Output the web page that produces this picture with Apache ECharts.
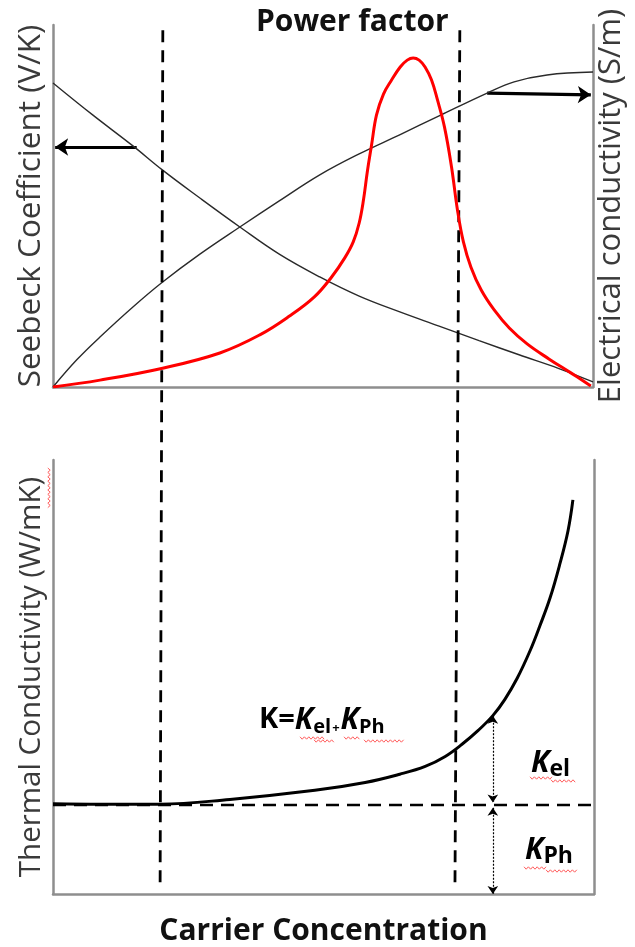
<!DOCTYPE html>
<html>
<head>
<meta charset="utf-8">
<title>Power factor and thermal conductivity vs carrier concentration</title>
<script src="https://cdn.jsdelivr.net/npm/echarts@6/dist/echarts.min.js"></script>
<style>
  html, body { margin: 0; padding: 0; background: #fff; }
  #chart { width: 635px; height: 947px; }
</style>
</head>
<body>
<div id="chart"></div>
<script>
// Carrier concentration runs 0..100 (arbitrary units) on every panel;
// all property values are normalised to 0..100 of their own axis.

// Seebeck coefficient (left axis, upper panel)
const seebeckX = [0, 7.4, 14.8, 20.3, 27.2, 34.6, 41.9, 49.4, 56.7, 64.1, 71.5, 78.9, 86.3, 93.7, 100];
const seebeckY = [84.0, 75.1, 66.6, 59.9, 52.2, 44.2, 36.7, 30.4, 25.1, 20.8, 16.8, 12.8, 8.9, 5.1, 1.4];

// Electrical conductivity (right axis, upper panel)
const sigmaX = [0, 4.4, 8.7, 14.8, 20.3, 27.2, 34.6, 41.9, 49.4, 56.7, 64.1, 71.5, 80.4, 85.4, 91.5, 100];
const sigmaY = [0, 7.5, 13.8, 22.1, 29.0, 36.7, 44.2, 51.4, 58.6, 64.4, 69.6, 74.9, 81.2, 84.3, 86.2, 87.0];

// Power factor (upper panel)
const pfX = [0, 8.7, 20.3, 30.9, 38.3, 43.8, 48.4, 51.6, 54.0, 55.6, 56.7, 57.5, 58.2, 59.0, 59.9, 61.2,
  62.7, 64.3, 65.6, 66.7, 67.8, 68.9, 70.1, 71.2, 72.5, 73.8, 74.9, 76.0, 77.4, 79.3, 81.7, 84.5, 87.8,
  91.9, 95.9, 99.6];
const pfY = [0, 1.9, 5.2, 9.4, 14.4, 19.6, 24.9, 30.4, 35.6, 40.1, 45.3, 51.7, 59.4, 66.9, 75.1, 80.9,
  84.8, 88.4, 90.3, 90.9, 90.3, 88.4, 84.8, 79.3, 71.8, 60.8, 48.9, 40.1, 33.1, 26.8, 21.3, 16.3, 11.9,
  7.7, 3.9, 0.3];

// Total thermal conductivity K = K_el + K_ph (lower panel)
const kappaX = [0, 8.7, 19.8, 32.7, 48.4, 57.7, 64.1, 68.8, 72.5, 75.6, 78.6, 81.3, 83.5, 85.8, 88.2, 90.0, 91.9, 93.7, 95.2, 96.1];
const kappaY = [20.8, 20.7, 20.7, 21.8, 23.9, 25.7, 27.6, 29.4, 31.7, 34.5, 37.7, 41.1, 44.8, 49.7, 56.1, 61.8, 68.3, 76.1, 83.7, 90.8];

// Lattice (phonon) contribution, constant
const kappaPh = 20.5;

// Optimal-concentration window (vertical guides), [top x, bottom x]
const windowLeft = [20.3, 19.8];
const windowRight = [75.2, 74.3];

// Axis-pointing arrows in the upper panel: [[x0, y0], [x1, y1]]
const arrowSeebeck = [[15.5, 66.3], [0.4, 66.3]];
const arrowSigma = [[80.4, 81.2], [99.6, 80.7]];

// Split of K at one concentration: K_el above K_ph
const splitX = 81.3;
const splitTop = 41.1;

const zip = (xs, ys) => xs.map((x, i) => [x, ys[i]]);

const FONT = '"Open Sans", "Noto Sans", sans-serif';
const AXIS_GRAY = '#8e8e8e';

const axisBase = {
  type: 'value', min: 0, max: 100,
  axisTick: { show: false }, axisLabel: { show: false },
  splitLine: { show: false }
};
const visibleLine = { show: true, onZero: false, lineStyle: { color: AXIS_GRAY, width: 2.5 } };
const nameStyle = (size) => ({ fontFamily: FONT, fontSize: size, color: '#3a3a3a', fontWeight: 'normal' });

const chart = echarts.init(document.getElementById('chart'), null, { renderer: 'canvas' });

// Small red wavy underline (spell-check style) generator
function squiggle(x0, y0, len, vertical) {
  const pts = [];
  const step = 2.2;
  for (let i = 0, t = 0; t <= len; i++, t += step) {
    const off = (i % 2 === 0) ? -1.2 : 1.2;
    pts.push(vertical ? [x0 + off, y0 + t] : [x0 + t, y0 + off]);
  }
  return {
    type: 'polyline', silent: true, z: 20,
    shape: { points: pts },
    style: { stroke: '#ff5a5a', lineWidth: 1, fill: null }
  };
}

const kRich = {
  b: { fontFamily: FONT, fontWeight: 'bold', fontSize: 29, color: '#111', lineHeight: 30, verticalAlign: 'top' },
  k: { fontFamily: FONT, fontWeight: 'bold', fontStyle: 'italic', fontSize: 30, color: '#111', lineHeight: 30, verticalAlign: 'top' },
  s: { fontFamily: FONT, fontWeight: 'bold', fontSize: 20, color: '#111', lineHeight: 20, padding: [13, 0, 0, 0] },
  t: { fontFamily: FONT, fontWeight: 'bold', fontSize: 23, color: '#111', lineHeight: 23, padding: [12, 0, 0, 0] },
  p: { fontFamily: FONT, fontWeight: 'bold', fontSize: 13, color: '#111', lineHeight: 13, padding: [16, 1, 0, 1] }
};

const option = {
  backgroundColor: '#ffffff',
  animation: false,
  title: {
    text: 'Power factor',
    left: 251, top: 2,
    textStyle: { fontFamily: FONT, fontWeight: 'bold', fontSize: 30, color: '#111' }
  },
  grid: [
    { left: 53, right: 41, top: 25, bottom: 560 },
    { left: 53, right: 41, top: 460, bottom: 52 },
    { left: 53, right: 41, top: 25, bottom: 52 }
  ],
  xAxis: [
    Object.assign({}, axisBase, { gridIndex: 0, axisLine: visibleLine }),
    Object.assign({}, axisBase, {
      gridIndex: 1, axisLine: visibleLine,
      name: 'Carrier Concentration', nameLocation: 'middle', nameGap: 22,
      nameTextStyle: { fontFamily: FONT, fontSize: 30, fontWeight: 'bold', color: '#111' }
    }),
    Object.assign({}, axisBase, { gridIndex: 2, axisLine: { show: false } })
  ],
  yAxis: [
    Object.assign({}, axisBase, {
      gridIndex: 0, position: 'left', axisLine: visibleLine,
      name: 'Seebeck Coefficient (V/K)', nameLocation: 'middle', nameGap: 6, nameRotate: 90,
      nameTextStyle: nameStyle(31.5)
    }),
    Object.assign({}, axisBase, {
      gridIndex: 0, position: 'right', axisLine: visibleLine,
      name: 'Electrical conductivity (S/m)', nameLocation: 'middle', nameGap: 3, nameRotate: 90,
      nameTextStyle: nameStyle(31)
    }),
    Object.assign({}, axisBase, {
      gridIndex: 1, position: 'left', axisLine: visibleLine,
      name: 'Thermal Conductivity (W/mK)', nameLocation: 'middle', nameGap: 6, nameRotate: 90,
      nameTextStyle: nameStyle(29.5)
    }),
    Object.assign({}, axisBase, { gridIndex: 1, position: 'right', axisLine: visibleLine }),
    Object.assign({}, axisBase, { gridIndex: 2, axisLine: { show: false } })
  ],
  series: [
    {
      name: 'Seebeck coefficient', type: 'line', xAxisIndex: 0, yAxisIndex: 0,
      data: zip(seebeckX, seebeckY), smooth: 0.4, symbol: 'none',
      lineStyle: { color: '#2a2a2a', width: 1.4 }
    },
    {
      name: 'Electrical conductivity', type: 'line', xAxisIndex: 0, yAxisIndex: 1,
      data: zip(sigmaX, sigmaY), smooth: 0.4, symbol: 'none',
      lineStyle: { color: '#2a2a2a', width: 1.4 }
    },
    {
      name: 'Power factor', type: 'line', xAxisIndex: 0, yAxisIndex: 0,
      data: zip(pfX, pfY), smooth: 0.4, symbol: 'none', z: 5,
      lineStyle: { color: '#ff0000', width: 3 }
    },
    {
      name: 'Axis arrows', type: 'lines', coordinateSystem: 'cartesian2d',
      xAxisIndex: 0, yAxisIndex: 0,
      symbol: ['none', 'arrow'], symbolSize: [0, 13],
      lineStyle: { color: '#000', width: 3.2, opacity: 1 },
      data: [{ coords: arrowSeebeck }, { coords: arrowSigma }]
    },
    {
      name: 'Thermal conductivity', type: 'line', xAxisIndex: 1, yAxisIndex: 2,
      data: zip(kappaX, kappaY), smooth: 0.4, symbol: 'none', z: 5,
      lineStyle: { color: '#000', width: 3 }
    },
    {
      name: 'Phonon part', type: 'line', xAxisIndex: 1, yAxisIndex: 2,
      data: [[0, kappaPh], [100, kappaPh]], symbol: 'none',
      lineStyle: { color: '#000', width: 2.6, type: [13, 8] }
    },
    {
      name: 'Split arrows', type: 'lines', coordinateSystem: 'cartesian2d',
      xAxisIndex: 1, yAxisIndex: 2,
      symbol: ['arrow', 'arrow'], symbolSize: 8,
      lineStyle: { color: '#000', width: 1.2, type: [2, 1.5], opacity: 1 },
      data: [
        { coords: [[splitX, splitTop], [splitX, kappaPh + 0.6]] },
        { coords: [[splitX, kappaPh - 0.6], [splitX, 0]] }
      ]
    },
    {
      name: 'Window left', type: 'line', xAxisIndex: 2, yAxisIndex: 4,
      data: [[windowLeft[0], 99.4], [windowLeft[1], 1.0]], symbol: 'none',
      lineStyle: { color: '#000', width: 2.8, type: [12, 8] }
    },
    {
      name: 'Window right', type: 'line', xAxisIndex: 2, yAxisIndex: 4,
      data: [[windowRight[0], 99.4], [windowRight[1], 1.0]], symbol: 'none',
      lineStyle: { color: '#000', width: 2.8, type: [12, 8] }
    }
  ],
  graphic: [
    {
      type: 'text', left: 259, top: 704, z: 10,
      style: { text: '{b|K=}{k|K}{s|el}{p|+}{k|K}{s|Ph}', rich: kRich }
    },
    {
      type: 'text', left: 531, top: 746, z: 10,
      style: { text: '{k|K}{t|el}', rich: kRich }
    },
    {
      type: 'text', left: 525, top: 833, z: 10,
      style: { text: '{k|K}{t|Ph}', rich: kRich }
    },
    squiggle(300, 738, 26), squiggle(314, 741, 20),
    squiggle(344, 738, 16), squiggle(364, 741, 40),
    squiggle(530, 778, 22), squiggle(551, 781, 26),
    squiggle(524, 868, 22), squiggle(546, 871, 32),
    squiggle(49, 468, 40, true)
  ]
};

chart.setOption(option);
</script>
</body>
</html>
